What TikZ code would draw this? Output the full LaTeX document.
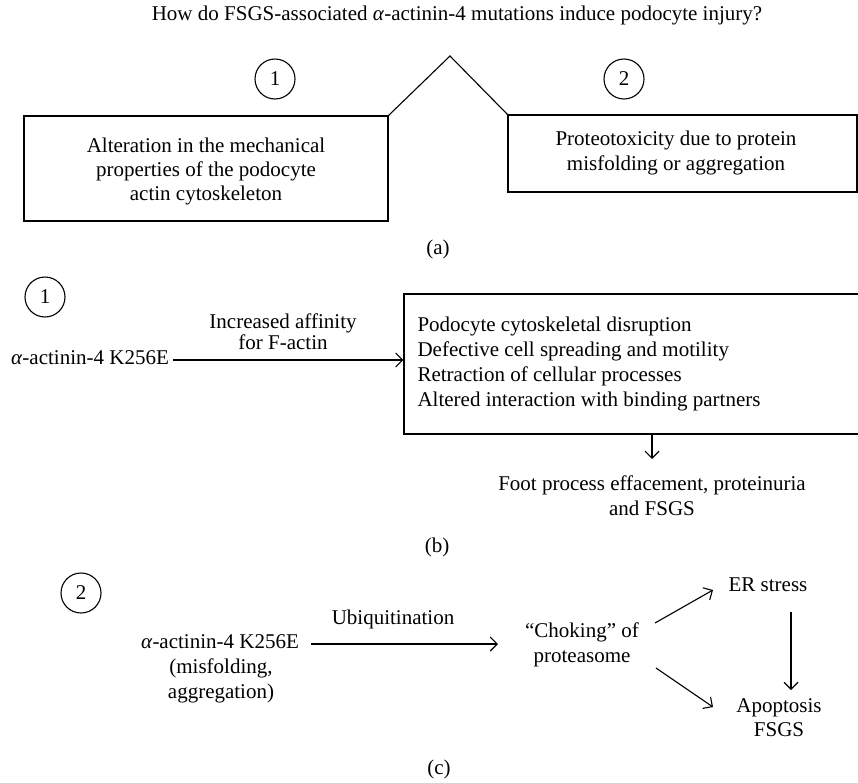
\documentclass[tikz,border=0pt]{standalone}
\usepackage{fontspec}
\setmainfont{Liberation Serif}
\usetikzlibrary{arrows.meta}
\newcommand{\txtsize}[1]{\fontsize{21}{#1}\selectfont}
\begin{document}
\begin{tikzpicture}[x=1pt,y=-1pt, line width=1.1pt,
  every node/.style={inner sep=0pt, font=\txtsize{24.5}},
  one/.style={text height=14pt, text depth=4.5pt},
  numc/.style={circle, draw, minimum size=40pt, inner sep=0pt},
  arr/.style={-{Straight Barb[length=7pt,width=14pt]}}]
\useasboundingbox (0,0) rectangle (858,782);

% ---------- (a) ----------
\node[one] (title) at (457,16) {How do FSGS-associated \textit{α}-actinin-4 mutations induce podocyte injury?};
\node[numc] (n1a) at (275,79) {1};
\node[numc] (n2a) at (624,79) {2};
\node[draw, minimum width=364pt, minimum height=105pt] (lbox) at (206,168.5) {};
\node[draw, minimum width=349pt, minimum height=77pt] (rbox) at (682.5,153.5) {};
\node[align=center, font=\txtsize{24}] (ltxt) at (206,171) {Alteration in the mechanical\\properties of the podocyte\\actin cytoskeleton};
\node[align=center, font=\txtsize{25}] (rtxt) at (676,152.5) {Proteotoxicity due to protein\\misfolding or aggregation};
\coordinate (apex) at (450,56);
\draw (lbox.north east) -- (apex) -- (rbox.north west);
\node[one] (la) at (438,250) {(a)};

% ---------- (b) ----------
\node[numc] (n1b) at (45,297) {1};
\node[one] (act1) at (90,360) {\textit{α}-actinin-4 K256E};
\node[draw, minimum width=466pt, minimum height=140pt] (bbox) at (637,364) {};
\node[align=left, anchor=west, font=\txtsize{25.3}] (btxt) at (417,364) {Podocyte cytoskeletal disruption\\Defective cell spreading and motility\\Retraction of cellular processes\\Altered interaction with binding partners};
\node[align=center, font=\txtsize{21}] (aff) at (283,332) {Increased affinity\\for F-actin};
\draw[arr] ([xshift=4pt]act1.east) -- (bbox.west |- act1.east);
\node[align=center, font=\txtsize{25}] (foot) at (652,495.5) {Foot process effacement, proteinuria\\and FSGS};
\coordinate (footarr) at (652,459);
\draw[arr] (bbox.south -| foot.north) -- (footarr);
\node[one] (lb) at (437,548) {(b)};

% ---------- (c) ----------
\node[numc] (n2c) at (81,593) {2};
\node[one] (act2) at (220,644) {\textit{α}-actinin-4 K256E};
\node[align=center, font=\txtsize{25}] (mis) at (221,680.5) {(misfolding,\\aggregation)};
\node[one] (ubi) at (393,620) {Ubiquitination};
\node[align=center, font=\txtsize{25}] (choke) at (582,644.5) {“Choking” of\\proteasome};
\node[one] (er) at (768,587) {ER stress};
\node[align=center, font=\txtsize{24}] (apop) at (779,718) {Apoptosis\\FSGS};
\coordinate (chin) at (498,644);
\draw[arr] ([xshift=12pt]act2.east) -- (chin);
\coordinate (ch1) at (655,623);
\coordinate (er1) at (713,590);
\draw[arr] (ch1) -- (er1);
\coordinate (ch2) at (656,668);
\coordinate (ap1) at (713,707);
\draw[arr] (ch2) -- (ap1);
\coordinate (er2) at (791,612);
\coordinate (ap2) at (791,690);
\draw[arr] (er2) -- (ap2);
\node[one] (lc) at (439,770) {(c)};
\end{tikzpicture}
\end{document}
